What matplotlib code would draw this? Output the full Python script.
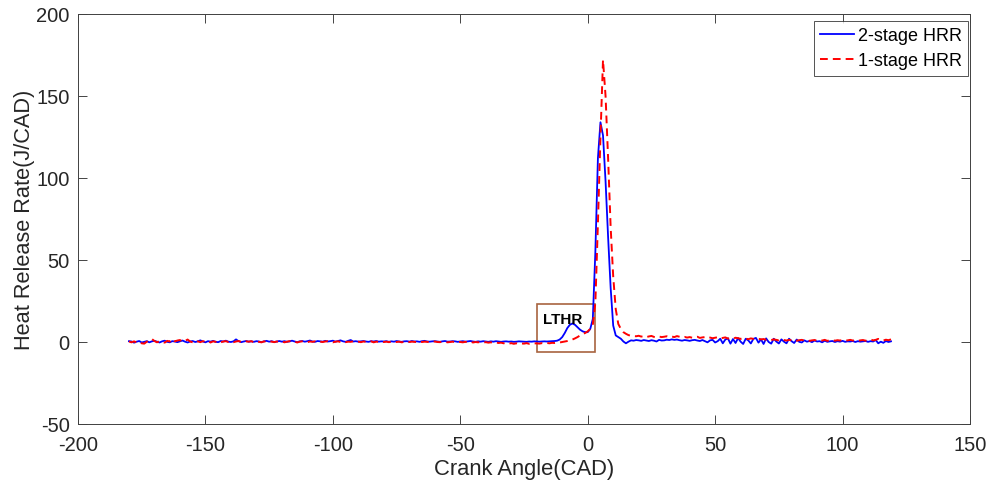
import numpy as np
import matplotlib
matplotlib.use("Agg")
import matplotlib.pyplot as plt
from matplotlib.patches import Rectangle

plt.rcParams['font.family'] = ['Liberation Sans', 'DejaVu Sans']
plt.rcParams['axes.unicode_minus'] = False

# Crank angle grid (CAD), one sample per degree
crank_start = -180
crank_end = 119

hrr_2stage = [
    0.5, 0.3, -0.4, 0.2, 0.6, -0.3, 0.1, 0.5, -0.2, 0.4,       # -180..-171
    0.7, 0.2, -0.3, 0.4, 0.8, 0.1, -0.2, 0.5, 0.3, -0.1,       # -170..-161
    0.4, 0.9, 0.2, -0.3, 0.3, 0.6, 0.0, 0.4, 1.0, 0.3,         # -160..-151
    -0.2, 0.5, 0.2, 0.7, 0.1, -0.1, 0.6, 0.3, 0.8, 0.2,        # -150..-141
    0.0, 0.4, 1.6, 0.5, -0.1, 0.3, 0.6, 0.2, 0.4, 0.1,         # -140..-131
    0.5, 0.3, -0.1, 0.4, 0.7, 0.2, 0.5, 0.0, 0.3, 0.6,         # -130..-121
    0.2, 0.5, 0.1, 0.4, 0.8, 0.3, -0.1, 0.4, 0.6, 0.2,         # -120..-111
    0.5, 0.9, 0.3, 0.1, 0.6, 0.4, 0.2, 0.7, 0.3, 0.5,          # -110..-101
    0.8, 0.2, 0.6, 1.0, 0.4, 0.1, 0.7, 1.2, 0.3, 0.5,          # -100..-91
    0.2, 0.4, 0.6, 0.3, 0.1, 0.5, 0.3, 0.6, 0.2, 0.4,          # -90..-81
    0.3, 0.5, 0.1, 0.4, 0.2, 0.6, 0.3, 0.1, 0.4, 0.5,          # -80..-71
    0.2, 0.6, 0.3, 0.4, 0.1, 0.5, 0.7, 0.3, 0.2, 0.4,          # -70..-61
    0.5, 0.3, 0.1, 0.4, 0.6, 0.2, 0.3, 0.5, 0.4, 0.1,          # -60..-51
    0.3, 0.5, 0.2, 0.4, 0.6, 0.3, 0.1, 0.4, 0.2, 0.5,          # -50..-41
    0.3, 0.1, 0.4, 0.2, 0.5, 0.3, 0.1, 0.3, 0.4, 0.2,          # -40..-31
    0.3, 0.1, 0.2, 0.4, 0.3, 0.2, 0.1, 0.3, 0.2, 0.4,          # -30..-21
    0.3, 0.2, 0.3, 0.4, 0.3, 0.4, 0.5, 0.6, 0.8, 1.5,          # -20..-11
    3.0, 5.5, 8.5, 10.5, 11.3, 10.5, 9.0, 7.5, 6.5, 6.0,       # -10..-1
    6.0, 8.0, 14.0, 55.0, 112.0, 134.0, 126.0, 98.0, 64.0, 33.0,  # 0..9
    10.0, 4.0, 3.0, 2.0, 0.3, -0.8, 0.2, 1.0, 0.8, 1.2,       # 10..19
    1.0, 0.7, 1.2, 0.9, 0.6, 1.1, 0.8, 0.3, 1.3, 0.9,          # 20..29
    1.0, 1.4, 1.2, 1.6, 1.3, 1.5, 1.1, 0.8, 1.2, 1.0,          # 30..39
    0.7, 1.1, 1.3, 0.9, 0.6, 1.2, 0.5, -0.2, 1.0, 1.3,         # 40..49
    -0.3, 0.5, 2.0, -0.8, 1.5, 2.2, -1.0, 1.8, -0.6, 2.4,      # 50..59
    0.2, -1.2, 2.0, 1.0, -0.9, 1.9, 2.5, -0.4, 1.6, -1.2,      # 60..69
    2.2, 0.0, -1.0, 2.0, 0.3, -0.9, 1.6, 0.2, -0.8, 2.0,       # 70..79
    0.5, -0.6, 1.5, 0.1, -0.3, 1.0, 0.2, 0.6, -0.1, 0.9,       # 80..89
    0.3, 0.5, -0.2, 0.8, 0.1, 0.4, 0.6, 0.0, 0.5, 0.2,         # 90..99
    0.7, 0.1, 0.4, 0.3, 0.6, 0.0, 0.5, 0.2, 0.4, 0.6,          # 100..109
    0.1, 0.5, 0.3, 1.2, -0.8, 0.2, -0.5, 0.6, 0.0, 0.4,        # 110..119
]

hrr_1stage = [
    0.3, -0.2, 0.4, -0.3, 0.1, -0.8, -1.0, 0.2, 0.9, 1.8,      # -180..-171
    0.6, -0.2, 0.5, 0.1, -0.4, 0.7, 0.3, 1.8, 0.4, 0.9,        # -170..-161
    1.2, 0.2, 0.6, 1.5, 0.3, -0.2, 0.8, 0.4, -0.1, 0.5,        # -160..-151
    0.2, 0.7, -0.3, 0.4, 0.1, 0.6, -0.2, 0.3, 0.5, 0.0,        # -150..-141
    0.4, -0.1, 0.3, 0.6, 0.1, -0.3, 0.4, 0.2, 0.5, -0.2,       # -140..-131
    0.3, 0.1, -0.2, 0.4, 0.0, 0.5, 0.2, -0.1, 0.3, 0.1,        # -130..-121
    0.4, -0.2, 0.2, 0.5, 0.0, 0.3, -0.3, 0.2, 0.4, 0.1,        # -120..-111
    -0.1, 0.3, 0.1, 0.4, -0.2, 0.2, 0.0, 0.3, 0.5, 0.1,        # -110..-101
    -0.2, 0.2, 0.4, 0.0, 0.3, -0.1, 0.2, 0.1, 0.4, 0.0,        # -100..-91
    0.2, -0.1, 0.3, 0.1, 0.0, 0.4, -0.2, 0.2, 0.1, 0.3,        # -90..-81
    0.0, 0.2, -0.1, 0.3, 0.1, 0.0, 0.2, -0.2, 0.1, 0.3,        # -80..-71
    0.0, 0.2, 0.1, -0.1, 0.3, 0.0, 0.2, 0.1, -0.2, 0.1,        # -70..-61
    0.3, 0.0, -0.1, 0.2, 0.1, -0.2, 0.0, 0.2, -0.1, 0.1,       # -60..-51
    0.0, -0.2, 0.1, -0.1, 0.2, -0.3, 0.0, -0.2, 0.1, -0.3,     # -50..-41
    -0.1, -0.4, -0.2, -0.5, -0.3, -0.6, -0.4, -0.8, -0.5, -1.0,  # -40..-31
    -0.7, -1.1, -0.8, -1.2, -0.9, -1.0, -0.7, -1.1, -0.8, -0.9,  # -30..-21
    -0.8, -1.0, -0.7, -0.9, -0.6, -0.8, -0.5, -0.6, -0.4, -0.3,  # -20..-11
    0.0, 0.3, 0.6, 1.0, 1.5, 2.2, 3.0, 4.0, 4.8, 5.5,          # -10..-1
    6.5, 8.0, 10.5, 24.0, 72.0, 125.0, 172.0, 150.0, 112.0, 70.0,  # 0..9
    40.0, 20.0, 11.0, 8.0, 6.0, 5.0, 4.2, 3.8, 3.6, 3.5,       # 10..19
    3.8, 3.3, 3.6, 3.0, 3.4, 3.7, 3.1, 2.8, 3.3, 3.0,          # 20..29
    3.2, 3.5, 2.9, 3.3, 3.0, 3.6, 3.2, 2.8, 3.1, 2.7,          # 30..39
    3.0, 2.6, 2.9, 3.2, 2.5, 2.8, 3.0, 2.4, 2.7, 2.3,          # 40..49
    2.6, 2.9, 2.2, 2.5, 2.8, 2.1, 2.4, 2.0, 2.6, 2.3,          # 50..59
    1.9, 2.4, 2.1, 1.7, 2.2, 1.9, 1.5, 2.0, 1.6, 1.8,          # 60..69
    1.4, 1.7, 1.2, 1.6, 1.3, 1.0, 1.5, 1.2, 0.9, 1.3,          # 70..79
    1.0, 1.4, 0.8, 1.1, 1.3, 0.9, 1.2, 0.7, 1.0, 1.2,          # 80..89
    0.8, 1.1, 0.9, 1.3, 0.7, 1.0, 1.2, 0.8, 1.1, 0.9,          # 90..99
    1.2, 0.8, 1.0, 1.3, 0.9, 1.1, 0.7, 1.0, 1.2, 0.8,          # 100..109
    1.1, 1.5, 1.0, 1.3, 1.9, 1.2, 0.9, 1.4, 1.1, 1.6,          # 110..119
]

crank_angle = np.arange(crank_start, crank_end + 1)

series_labels = ['2-stage HRR', '1-stage HRR']
x_ticks = [-200, -150, -100, -50, 0, 50, 100, 150]
y_ticks = [-50, 0, 50, 100, 150, 200]
lthr_box = (-20, -6, 23, 29)   # x0, y0, width, height
lthr_label = 'LTHR'
lthr_label_pos = (-17.5, 14)

fig = plt.figure(figsize=(9.89, 4.89), dpi=100)
ax = fig.add_axes([78/989, 1-425/489, (970-78)/989, (425-15)/489])

ax.plot(crank_angle, hrr_2stage, color='#0000FF', lw=1.3, label=series_labels[0])
ax.plot(crank_angle, hrr_1stage, color='#FF0000', lw=1.4, ls=(0, (4, 2.6)), label=series_labels[1])

rect = Rectangle((lthr_box[0], lthr_box[1]), lthr_box[2], lthr_box[3],
                 fill=False, edgecolor='#A8643F', lw=1.2)
ax.add_patch(rect)
ax.text(lthr_label_pos[0], lthr_label_pos[1], lthr_label, fontsize=11,
        fontweight='bold', color='black', ha='left', va='center')

ax.set_xlim(-200, 150)
ax.set_ylim(-50, 200)
ax.set_xticks(x_ticks)
ax.set_yticks(y_ticks)
ax.tick_params(direction='in', length=6.5, width=0.6, colors='#262626',
               top=True, right=True, labelsize=14.5)
ax.tick_params(axis='x', pad=8)
ax.tick_params(axis='y', pad=6)
for sp in ax.spines.values():
    sp.set_color('#404040')
    sp.set_linewidth(0.7)

ax.set_xlabel('Crank Angle(CAD)', fontsize=15.8, color='#262626', labelpad=3)
ax.set_ylabel('Heat Release Rate(J/CAD)', fontsize=15.7, color='#262626', labelpad=1)

leg = ax.legend(loc='upper right', bbox_to_anchor=((968-78)/892, 1-(22-15)/410),
                fontsize=13, frameon=True, fancybox=False, edgecolor='#262626',
                handlelength=1.9, handletextpad=0.18, borderpad=0.35,
                labelspacing=0.45, borderaxespad=0)
leg.get_frame().set_linewidth(0.7)

fig.savefig('out.png', dpi=100)
